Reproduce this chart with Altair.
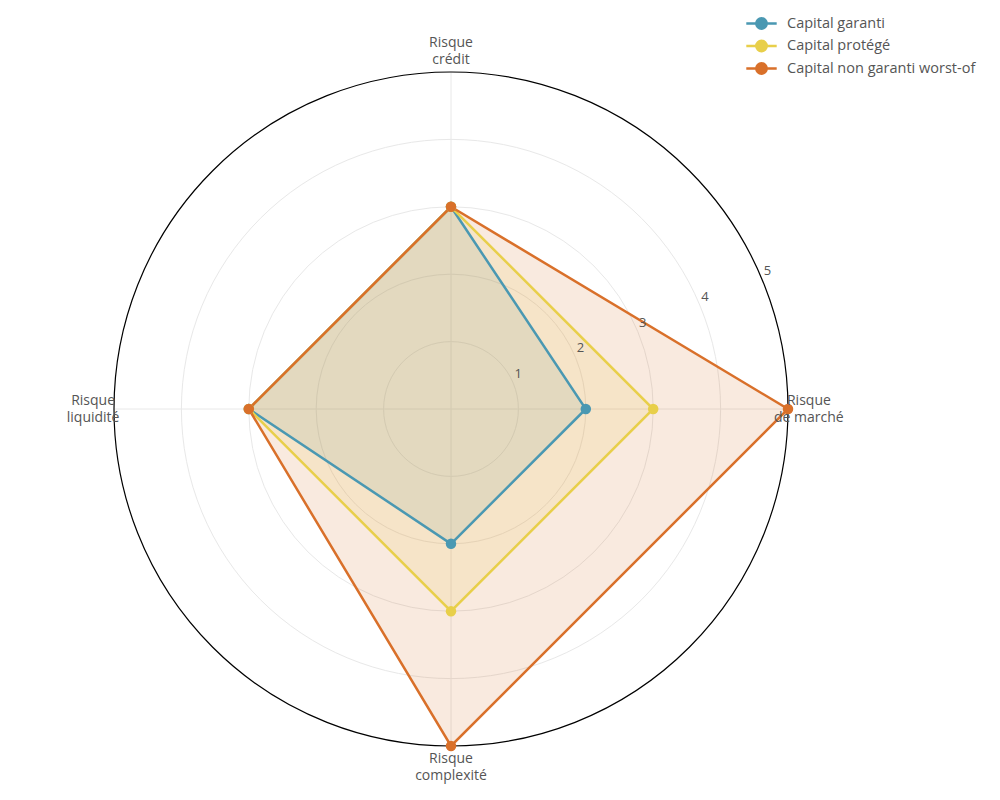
import math
import altair as alt
import pandas as pd

categories = ["Risque\ncrédit", "Risque\nde marché", "Risque\ncomplexité", "Risque\nliquidité"]
series = ["Capital garanti", "Capital protégé", "Capital non garanti worst-of"]
capital_garanti = [3, 2, 2, 3]
capital_protege = [3, 3, 3, 3]
capital_worst_of = [3, 5, 5, 3]
colors = ["#4a98b2", "#e8cf4a", "#d9702a"]
ticks = [1, 2, 3, 4, 5]

values_by_series = [capital_garanti, capital_protege, capital_worst_of]
rows = []
for s_i, (name, vals) in enumerate(zip(series, values_by_series)):
    for i, (cat, v) in enumerate(zip(categories, vals)):
        rows.append({"series": name, "s": s_i, "idx": i, "cat": cat, "value": v})
df = pd.DataFrame(rows)
cat_df = pd.DataFrame({"idx": list(range(len(categories))), "cat": categories})
tick_df = pd.DataFrame({"r": ticks, "label": [str(t) for t in ticks]})

FONT = "Open Sans"
N = len(categories)
W = 674
R = W / 2
xs = alt.Scale(domain=[-5, 5], nice=False, zero=False)
ys = alt.Scale(domain=[-5, 5], nice=False, zero=False)
ang = f"datum.idx * 2 * PI / {N}"

color_scale = alt.Scale(domain=series, range=colors)
rad_scale = alt.Scale(type="linear", domain=[0, 5], range=[0, R], zero=True)

rings = alt.Chart(tick_df).transform_filter("datum.r < 5").mark_arc(
    theta=0, theta2=math.tau, fillOpacity=0, stroke="#e8e8e8", strokeWidth=1
).encode(
    radius=alt.Radius("r:Q", scale=rad_scale, stack=None),
)

outer = alt.Chart(tick_df).transform_filter("datum.r == 5").mark_arc(
    theta=0, theta2=math.tau, fillOpacity=0, stroke="#000000", strokeWidth=1.2
).encode(
    radius=alt.Radius("r:Q", scale=rad_scale, stack=None),
)

spokes = alt.Chart(cat_df).transform_calculate(
    x0="0", y0="0",
    x1=f"5 * sin({ang})", y1=f"5 * cos({ang})",
).mark_rule(color="#e8e8e8", strokeWidth=1).encode(
    x=alt.X("x0:Q", scale=xs, axis=None),
    y=alt.Y("y0:Q", scale=ys, axis=None),
    x2="x1:Q", y2="y1:Q",
)

base = alt.Chart(df).transform_calculate(
    px=f"datum.value * sin({ang})",
    py=f"datum.value * cos({ang})",
)

fill_layers = []
for s_i, col in enumerate(colors):
    fill_layers.append(
        base.transform_filter(f"datum.s == {s_i}").mark_line(
            interpolate="linear-closed", strokeOpacity=0, fill=col, fillOpacity=0.15
        ).encode(
            x=alt.X("px:Q", scale=xs, axis=None),
            y=alt.Y("py:Q", scale=ys, axis=None),
            order=alt.Order("idx:Q"),
        )
    )

legend_path = "M-1.9,0L1.9,0M0.65,0A0.65,0.65,0,1,1,-0.65,0A0.65,0.65,0,1,1,0.65,0Z"

lines = base.mark_line(
    interpolate="linear-closed", strokeWidth=2.5
).encode(
    x=alt.X("px:Q", scale=xs, axis=None),
    y=alt.Y("py:Q", scale=ys, axis=None),
    color=alt.Color(
        "series:N", scale=color_scale, sort=series,
        legend=alt.Legend(
            title=None, orient="none", legendX=638, legendY=-58,
            symbolType=legend_path, symbolSize=256, symbolStrokeWidth=2.5,
            labelFont=FONT, labelFontSize=14.5, labelColor="#555555",
            rowPadding=1.5, labelOffset=16, labelLimit=0,
        ),
    ),
    order=alt.Order("idx:Q"),
    detail="s:N",
)

points = base.mark_point(filled=True, size=110, opacity=1).encode(
    x=alt.X("px:Q", scale=xs, axis=None),
    y=alt.Y("py:Q", scale=ys, axis=None),
    color=alt.Color("series:N", scale=color_scale, sort=series, legend=None),
    order=alt.Order("s:Q"),
)

cat_labels = alt.Chart(cat_df).transform_calculate(
    lx=f"5.31 * sin({ang})", ly=f"5.31 * cos({ang})",
).mark_text(
    font=FONT, fontSize=14, color="#555555", lineBreak="\n", lineHeight=17,
    align="center", baseline="middle", dy=-8,
).encode(
    x=alt.X("lx:Q", scale=xs, axis=None),
    y=alt.Y("ly:Q", scale=ys, axis=None),
    text="cat:N",
)

tick_labels = alt.Chart(tick_df).transform_calculate(
    tx="datum.r * cos(PI / 8)", ty="datum.r * sin(PI / 8)",
).mark_text(
    font=FONT, fontSize=13, color="#555555", align="center", baseline="middle", dx=5, dy=-9,
).encode(
    x=alt.X("tx:Q", scale=xs, axis=None),
    y=alt.Y("ty:Q", scale=ys, axis=None),
    text="label:N",
)

chart = alt.layer(rings, spokes, outer, *fill_layers, lines, points, cat_labels, tick_labels).properties(
    width=W, height=W,
    autosize=alt.AutoSizeParams(type="none"),
    padding={"left": 106, "top": 64, "right": 190, "bottom": 50},
).configure_view(stroke=None)

chart.save("out.html", embed_options={"renderer": "svg", "actions": False})
